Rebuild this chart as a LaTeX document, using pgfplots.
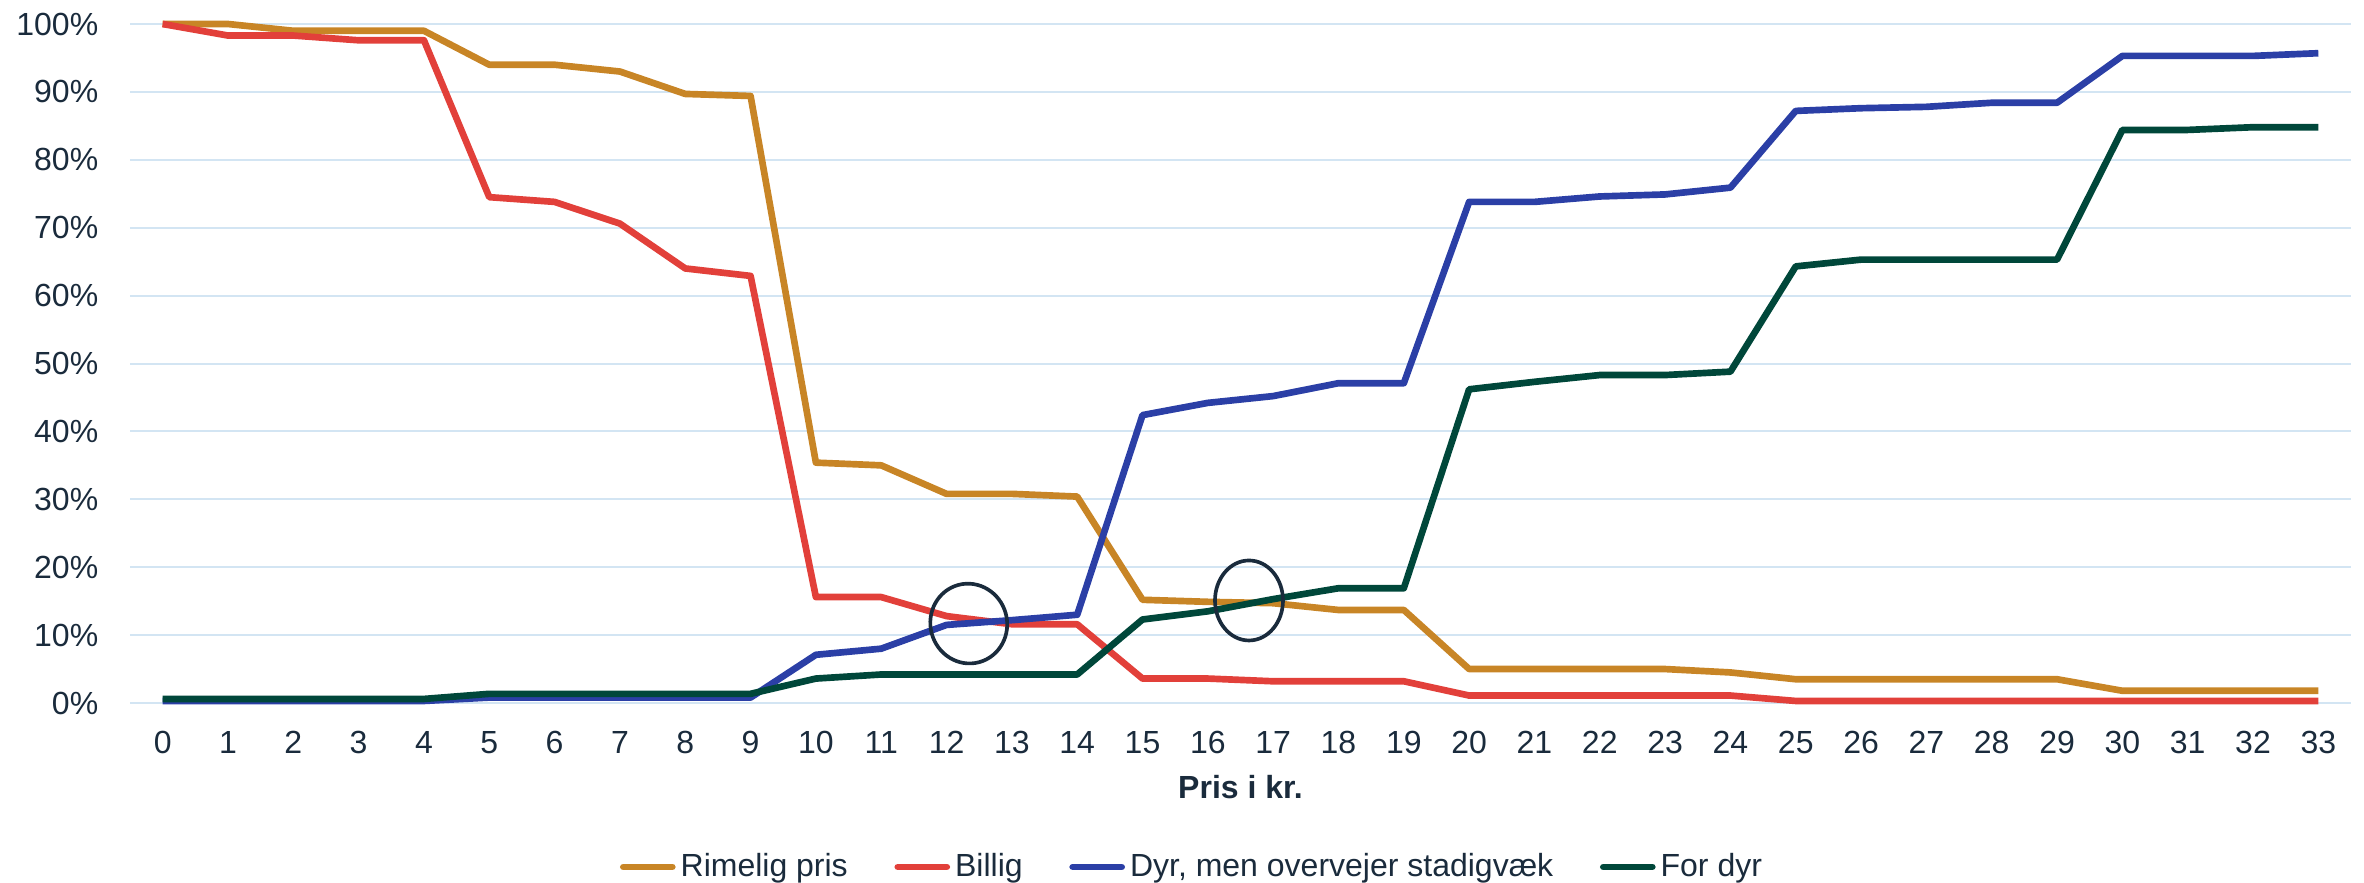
\documentclass[border=0pt]{standalone}
\usepackage{pgfplots}
\pgfplotsset{compat=1.18}
\usepackage{pgfplotstable}
\usepackage{fontspec}
\setmainfont{Liberation Sans}

\definecolor{txt}{HTML}{1A2B3C}
\definecolor{gridc}{HTML}{D3E5F3}
\definecolor{rimelig}{HTML}{C88526}
\definecolor{billig}{HTML}{E2403A}
\definecolor{dyrmen}{HTML}{2B3FA6}
\definecolor{fordyr}{HTML}{00473A}

% pris, rimelig, billig, dyr men overvejer, for dyr (pct.)
\pgfplotstableread{
x  rim   bil   dmo   fd
0  100   100   0.3   0.6
1  100   98.3  0.3   0.6
2  99    98.3  0.3   0.6
3  99    97.6  0.3   0.6
4  99    97.6  0.3   0.6
5  94    74.5  0.8   1.35
6  94    73.8  0.8   1.35
7  93    70.6  0.8   1.35
8  89.7  64.0  0.8   1.35
9  89.4  62.9  0.8   1.35
10 35.4  15.6  7.1   3.6
11 35.0  15.6  8.0   4.2
12 30.8  12.8  11.5  4.2
13 30.8  11.6  12.2  4.2
14 30.4  11.6  13.0  4.2
15 15.2  3.6   42.4  12.3
16 14.9  3.6   44.2  13.5
17 14.7  3.2   45.2  15.3
18 13.7  3.2   47.1  16.9
19 13.7  3.2   47.1  16.9
20 5.0   1.1   73.8  46.2
21 5.0   1.1   73.8  47.3
22 5.0   1.1   74.6  48.3
23 5.0   1.1   74.9  48.3
24 4.5   1.1   75.9  48.8
25 3.5   0.3   87.2  64.3
26 3.5   0.3   87.6  65.3
27 3.5   0.3   87.8  65.3
28 3.5   0.3   88.4  65.3
29 3.5   0.3   88.4  65.3
30 1.8   0.3   95.3  84.4
31 1.8   0.3   95.3  84.4
32 1.8   0.3   95.3  84.8
33 1.8   0.3   95.7  84.8
}\data

\begin{document}
\begin{tikzpicture}[font=\fontsize{9.6}{11}\selectfont, text=txt]
\useasboundingbox (-39pt,-54pt) rectangle (670.2pt,210.9pt);
\begin{axis}[
    at={(0,0)}, anchor=south west,
    width=666.3pt, height=203.7pt, scale only axis,
    xmin=-0.5, xmax=33.5,
    ymin=0, ymax=100,
    xtick={0,1,...,33},
    ytick={0,10,...,100},
    yticklabel={\pgfmathprintnumber{\tick}\%},
    /pgf/number format/assume math mode=true,
    axis line style={draw=none},
    major tick length=0pt,
    ymajorgrids,
    grid style={color=gridc, line width=0.6pt},
    yticklabel style={xshift=-6pt, text=txt},
    xticklabel style={yshift=-5pt, text=txt},
    xlabel={\textbf{Pris i kr.}},
    xlabel style={yshift=0.5pt, text=txt},
    clip=false,
    legend columns=4,
    legend style={at={(0.4777,-0.2415)}, anchor=center, draw=none, fill=none,
        text=txt, font=\fontsize{9.6}{11}\selectfont,
        nodes={inner xsep=0pt},
        /tikz/every odd column/.append style={column sep=1.5pt},
        /tikz/every even column/.append style={column sep=14pt}},
    legend image code/.code={\draw[#1, line cap=round] (0.9pt,0pt) -- (15.6pt,0pt);},
    every axis plot/.append style={line width=2pt, line join=round, mark=none},
]
\addplot[rimelig] table[x=x, y=rim] {\data};
\addlegendentry{Rimelig pris}
\addplot[billig] table[x=x, y=bil] {\data};
\addlegendentry{Billig}
\addplot[dyrmen] table[x=x, y=dmo] {\data};
\addlegendentry{Dyr, men overvejer stadigvæk}
\addplot[fordyr] table[x=x, y=fd] {\data};
\addlegendentry{For dyr}

% haandtegnede ringe om krydsene
\draw[txt, line width=1.1pt, rotate around={15:(axis cs:12.34,11.7)}] (axis cs:12.34,11.7) ellipse [x radius=11.5pt, y radius=12pt];
\draw[txt, line width=1.1pt] (axis cs:16.63,15.1) ellipse [x radius=10.2pt, y radius=12pt];
\end{axis}
\end{tikzpicture}
\end{document}
